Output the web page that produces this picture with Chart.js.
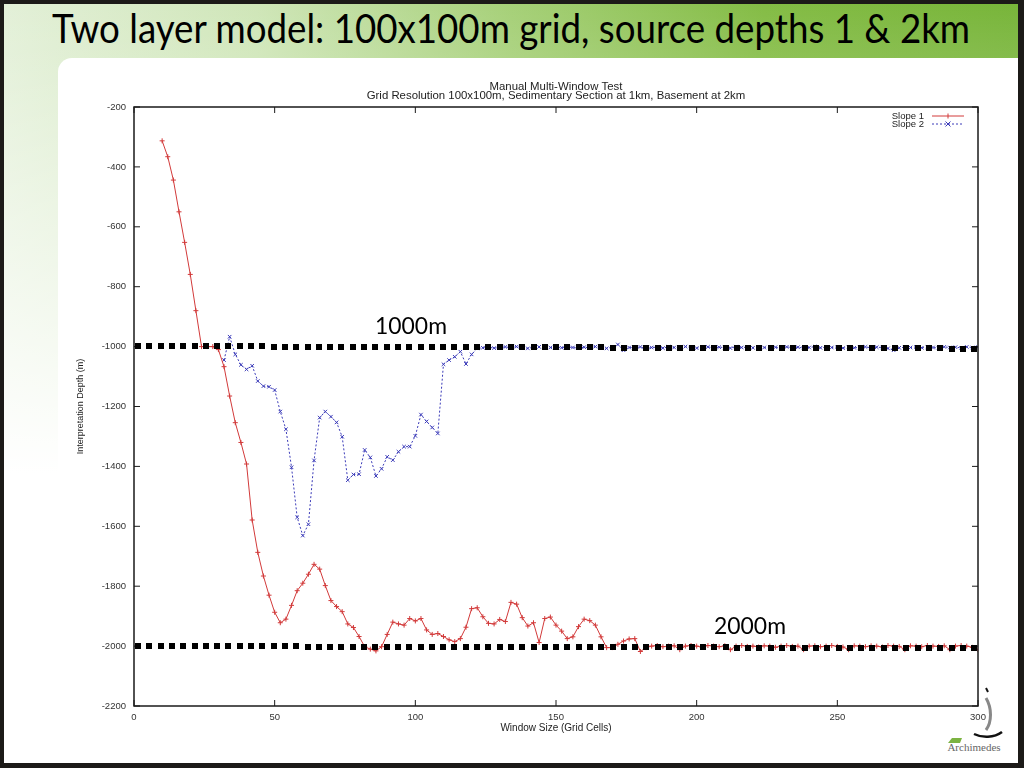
<!DOCTYPE html>
<html>
<head>
<meta charset="utf-8">
<script src="https://cdn.jsdelivr.net/npm/chart.js@4.4.1/dist/chart.umd.min.js"></script>
<style>
  html, body { margin: 0; padding: 0; width: 1024px; height: 768px; overflow: hidden; background: #1c1a18; }
  #slide { position: absolute; left: 4px; top: 4px; width: 1014px; height: 759px;
    background:
      linear-gradient(to bottom, rgba(255,255,255,0) 0px, rgba(255,255,255,0.1) 60px, #ffffff 470px),
      linear-gradient(to right, #e3f0d8 0%, #cfe6b8 25%, #a6d078 50%, #84bc45 75%, #78b53a 100%);
  }
  #panel { position: absolute; left: 58px; top: 58px; width: 960px; height: 705px; background: #fff; border-top-left-radius: 14px; }
  #title { position: absolute; left: 52px; top: 3px; white-space: nowrap; color: #000; font-family: Lato, "Open Sans", sans-serif; font-size: 40px; line-height: 50px; transform-origin: 0 0; }
  #logo { position: absolute; left: 930px; top: 680px; width: 88px; height: 80px; }
  #chart { position: absolute; left: 0; top: 0; }
</style>
</head>
<body>
<div id="slide"></div>
<div id="panel"></div>
<div id="title">Two layer model: 100x100m grid, source depths 1 &amp; 2km</div>
<svg id="logo" width="88" height="80" viewBox="0 0 88 80">
  <path d="M56 8 L58 12" stroke="#111" stroke-width="2" fill="none"/>
  <path d="M56 18 C62 28 62 42 56 50" stroke="#888" stroke-width="3" fill="none"/>
  <path d="M44 54 C52 58 64 58 72 52" stroke="#111" stroke-width="2.5" fill="none"/>
  <path d="M22 58 L32 58 L30 63 L18 63 Z" fill="#7cb342"/>
  <text x="44" y="71" text-anchor="middle" font-family="'Liberation Serif', 'DejaVu Serif', serif" font-size="11" fill="#666">Archimedes</text>
</svg>
<canvas id="chart" width="1024" height="768"></canvas>
<script>
// ---- data ----
const windowSizes = [10,12,14,16,18,20,22,24,26,28,30,32,34,36,38,40,42,44,46,48,50,52,54,56,58,60,62,64,66,68,70,72,74,76,78,80,82,84,86,88,90,92,94,96,98,100,102,104,106,108,110,112,114,116,118,120,122,124,126,128,130,132,134,136,138,140,142,144,146,148,150,152,154,156,158,160,162,164,166,168,170,172,174,176,178,180,182,184,186,188,190,192,194,196,198,200,202,204,206,208,210,212,214,216,218,220,222,224,226,228,230,232,234,236,238,240,242,244,246,248,250,252,254,256,258,260,262,264,266,268,270,272,274,276,278,280,282,284,286,288,290,292,294,296,298,300];

const slope1 = [-313,-366,-444,-550,-652,-759,-880,-1000,-1000,-1000,-1010,-1067,-1165,-1254,-1320,-1392,-1579,-1687,-1766,-1830,-1887,-1922,-1910,-1864,-1815,-1790,-1760,-1727,-1743,-1798,-1848,-1868,-1885,-1926,-1938,-1968,-2002,-2010,-2016,-2002,-1961,-1920,-1926,-1930,-1908,-1916,-1908,-1946,-1961,-1958,-1968,-1979,-1985,-1975,-1937,-1875,-1872,-1902,-1924,-1926,-1911,-1918,-1854,-1860,-1905,-1933,-1922,-1988,-1908,-1903,-1930,-1950,-1975,-1969,-1935,-1910,-1915,-1930,-1969,-2005,-2005,-1994,-1983,-1976,-1975,-2018,-2005,-2000,-1998,-2002,-2000,-1999,-2012,-2000,-1998,-2000,-2004,-1998,-2000,-2002,-1999,-2012,-2000,-1998,-2001,-2000,-2003,-1999,-2000,-2004,-2000,-1998,-2001,-2000,-2012,-2000,-1999,-2002,-2000,-1998,-2001,-2003,-2012,-1999,-2000,-2002,-1999,-2000,-2003,-1998,-2000,-2001,-2012,-1999,-2000,-2002,-1998,-2000,-2001,-1999,-2012,-2000,-1998,-2000,-2004,-2012];

const slope2 = [null,null,null,null,null,null,null,null,null,null,null,-1045,-967,-1026,-1061,-1076,-1064,-1115,-1132,-1134,-1145,-1217,-1276,-1403,-1570,-1631,-1593,-1380,-1237,-1217,-1234,-1253,-1301,-1446,-1427,-1426,-1345,-1370,-1432,-1408,-1368,-1379,-1351,-1334,-1334,-1298,-1227,-1250,-1270,-1290,-1059,-1045,-1034,-1017,-1058,-1026,-1006,-1004,-1002,-1005,-1003,-1001,-1004,-1000,-1003,-1006,-1002,-1001,-1005,-1003,-1002,-1004,-1001,-1003,-1005,-1002,-1004,-1000,-1003,-1006,-1002,-993,-1012,-1003,-1004,-1001,-1008,-1003,-1002,-1005,-1001,-1003,-1004,-1000,-1003,-1005,-1002,-1001,-1004,-1002,-1003,-1005,-1000,-1003,-1002,-1004,-1001,-1003,-1005,-1002,-1004,-1001,-1003,-1002,-1005,-1003,-1000,-1004,-1002,-1003,-1001,-1005,-1002,-1004,-1003,-1001,-1004,-1002,-1003,-1006,-1012,-1004,-1002,-1003,-1001,-1004,-1002,-1003,-1005,-1001,-1003,-1002,-1004,-1001,-1003,-1002];

const seriesNames = ["Slope 1", "Slope 2"];
const chartTitle = ["Manual Multi-Window Test", "Grid Resolution 100x100m, Sedimentary Section at 1km, Basement at 2km"];
const xTitle = "Window Size (Grid Cells)";
const yTitle = "Interpretation Depth (m)";
const xTicks = [0, 50, 100, 150, 200, 250, 300];
const yTicks = [-200, -400, -600, -800, -1000, -1200, -1400, -1600, -1800, -2000, -2200];
const referenceDepths = [-1000, -2000];
const referenceLabels = ["1000m", "2000m"];

// ---- fit slide title width (horizontal squeeze, keeps glyph height) ----
(function(){
  const t = document.getElementById('title');
  const w = t.getBoundingClientRect().width;
  t.style.transform = 'scaleX(' + (918 / w) + ')';
})();

const RED = '#d23a3a', BLUE = '#3a3ab8';
const GP_FONT = '"Liberation Sans", Arial, sans-serif';

const toPts = (vals) => windowSizes.map((x, i) => ({x: x, y: vals[i]})).filter(p => p.y !== null);

function fitFont(ctx, text, target, base, family) {
  ctx.font = base + 'px ' + family;
  const w = ctx.measureText(text).width;
  return base * target / w;
}

const decor = {
  id: 'decor',
  afterDatasetsDraw(chart) {
    const ctx = chart.ctx, a = chart.chartArea;
    const xs = chart.scales.x, ys = chart.scales.y;
    ctx.save();
    // frame
    ctx.strokeStyle = '#1a1a1a';
    ctx.lineWidth = 1.5;
    ctx.strokeRect(a.left, a.top, a.right - a.left, a.bottom - a.top);
    ctx.lineWidth = 1;
    ctx.beginPath();
    yTicks.forEach(v => {
      const y = ys.getPixelForValue(v);
      ctx.moveTo(a.left, y); ctx.lineTo(a.left + 6, y);
      ctx.moveTo(a.right, y); ctx.lineTo(a.right - 6, y);
    });
    xTicks.forEach(v => {
      const x = xs.getPixelForValue(v);
      ctx.moveTo(x, a.bottom); ctx.lineTo(x, a.bottom - 6);
      ctx.moveTo(x, a.top); ctx.lineTo(x, a.top + 6);
    });
    ctx.stroke();

    // chart titles
    ctx.fillStyle = '#222';
    ctx.textAlign = 'center';
    ctx.textBaseline = 'middle';
    const fs = fitFont(ctx, chartTitle[1], 379, 10, GP_FONT);
    ctx.font = fs + 'px ' + GP_FONT;
    const cx = (a.left + a.right) / 2;
    ctx.fillText(chartTitle[0], cx, 87);
    ctx.fillText(chartTitle[1], cx, 96);

    // legend (inside top-right)
    ctx.font = '9.5px ' + GP_FONT;
    ctx.textAlign = 'right';
    ctx.fillStyle = '#222';
    ctx.fillText(seriesNames[0], a.right - 54, a.top + 9);
    ctx.fillText(seriesNames[1], a.right - 54, a.top + 17);
    ctx.strokeStyle = RED; ctx.lineWidth = 1;
    ctx.beginPath(); ctx.moveTo(a.right - 46, a.top + 9); ctx.lineTo(a.right - 14, a.top + 9); ctx.stroke();
    const mx = a.right - 30;
    ctx.beginPath(); ctx.moveTo(mx, a.top + 6.5); ctx.lineTo(mx, a.top + 11.5); ctx.stroke();
    ctx.strokeStyle = BLUE; ctx.setLineDash([2, 2]);
    ctx.beginPath(); ctx.moveTo(a.right - 46, a.top + 17); ctx.lineTo(a.right - 14, a.top + 17); ctx.stroke();
    ctx.setLineDash([]);
    ctx.beginPath();
    ctx.moveTo(mx - 2.5, a.top + 14.5); ctx.lineTo(mx + 2.5, a.top + 19.5);
    ctx.moveTo(mx + 2.5, a.top + 14.5); ctx.lineTo(mx - 2.5, a.top + 19.5);
    ctx.stroke();

    // thick dotted reference lines (slide overlay)
    ctx.fillStyle = '#000';
    const x0 = a.left + 1, x1 = a.right + 4;
    const tilt = [[-0.5, 2], [0, 2]];
    referenceDepths.forEach((d, k) => {
      const yc = ys.getPixelForValue(d);
      for (let x = x0; x <= x1 - 5; x += 11.3) {
        const f = (x - x0) / (x1 - x0);
        const y = yc + tilt[k][0] + (tilt[k][1] - tilt[k][0]) * f;
        ctx.fillRect(Math.round(x), Math.round(y - 3), 6, 6);
      }
    });
    // reference labels
    const LF = 'Lato, "Open Sans", sans-serif';
    const lfs = fitFont(ctx, referenceLabels[0], 72, 20, LF);
    ctx.font = lfs + 'px ' + LF;
    ctx.textAlign = 'center';
    ctx.fillStyle = '#000';
    ctx.fillText(referenceLabels[0], 411, 327);
    ctx.fillText(referenceLabels[1], 750, 627);
    ctx.restore();
  }
};

new Chart(document.getElementById('chart'), {
  type: 'line',
  data: {
    datasets: [
      { label: seriesNames[0], data: toPts(slope1), borderColor: RED, backgroundColor: RED,
        borderWidth: 1, pointStyle: 'cross', pointRadius: 2.5, pointBorderWidth: 1, tension: 0, fill: false },
      { label: seriesNames[1], data: toPts(slope2), borderColor: BLUE, backgroundColor: BLUE,
        borderWidth: 1, borderDash: [2, 2], pointStyle: 'crossRot', pointRadius: 2.5, pointBorderWidth: 1, tension: 0, fill: false }
    ]
  },
  options: {
    responsive: false,
    animation: false,
    devicePixelRatio: 1,
    layout: { padding: { left: 75, right: 46, top: 107, bottom: 34 } },
    plugins: { legend: { display: false }, title: { display: false }, tooltip: { enabled: false } },
    scales: {
      x: {
        type: 'linear', min: 0, max: 300,
        afterBuildTicks: s => { s.ticks = xTicks.map(v => ({value: v})); },
        afterFit: s => { s.height = 28; },
        grid: { display: false, drawTicks: false },
        border: { display: false },
        ticks: { font: { family: GP_FONT, size: 9.5 }, color: '#333', padding: 6, maxRotation: 0, callback: v => String(v) },
        title: { display: true, text: xTitle, font: { family: GP_FONT, size: 10 }, color: '#222', padding: 0 }
      },
      y: {
        type: 'linear', min: -2200, max: -200,
        afterBuildTicks: s => { s.ticks = yTicks.map(v => ({value: v})); },
        afterFit: s => { s.width = 59; },
        grid: { display: false, drawTicks: false },
        border: { display: false },
        ticks: { font: { family: GP_FONT, size: 9.5 }, color: '#333', padding: 8, callback: v => String(v) },
        title: { display: true, text: yTitle, font: { family: GP_FONT, size: 9 }, color: '#222', padding: 0 }
      }
    }
  },
  plugins: [decor]
});
</script>
</body>
</html>
